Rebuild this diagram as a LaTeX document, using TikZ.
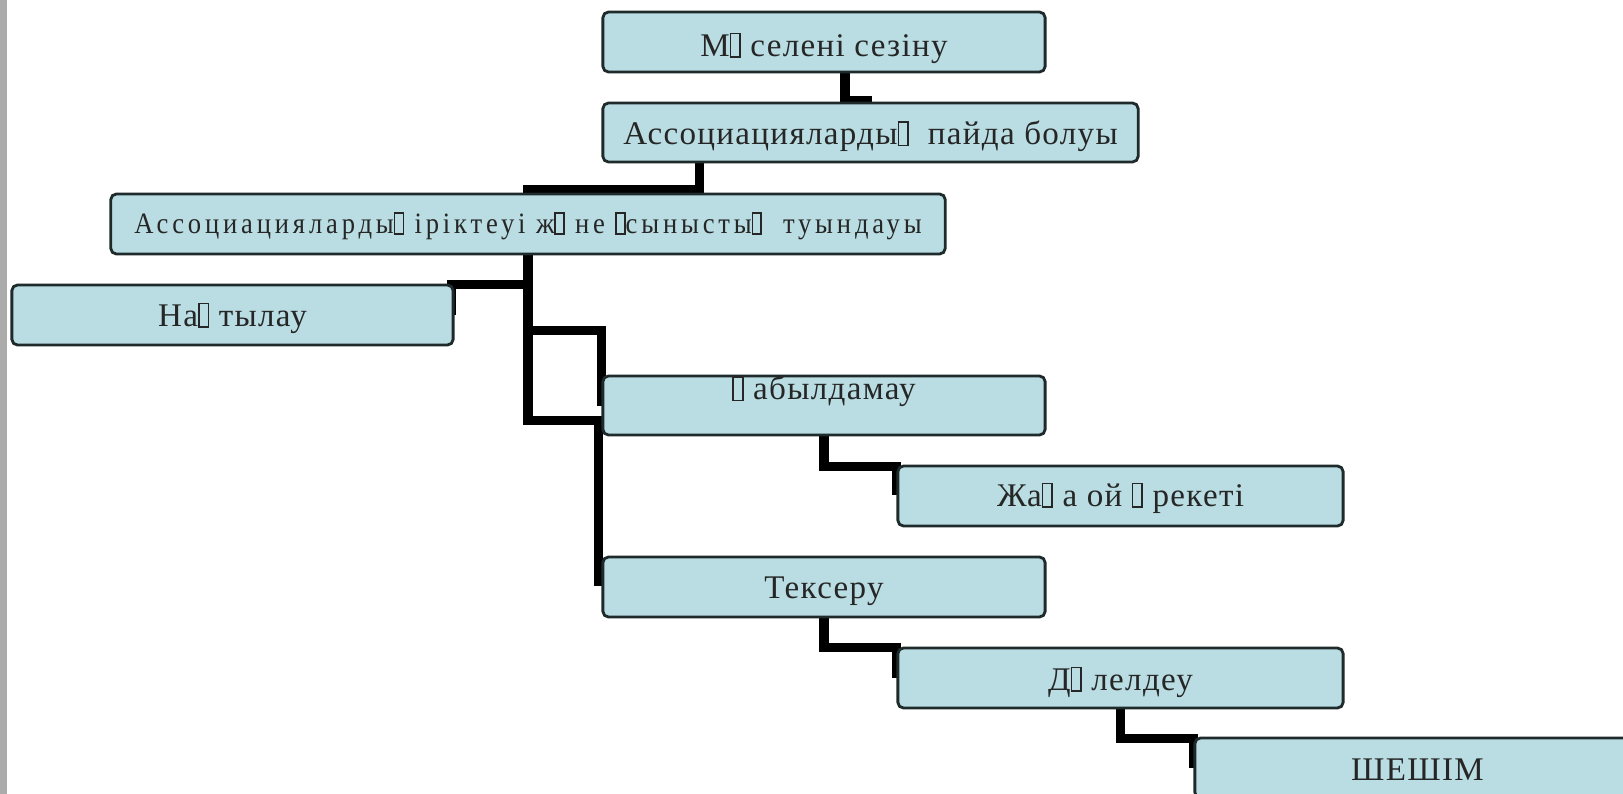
\documentclass[tikz,border=0pt]{standalone}
\usepackage{fontspec}
\setmainfont{Liberation Serif}
\newfontfamily\boxfont[LetterSpace=4]{Liberation Serif}
\newfontfamily\narrowfont[FakeStretch=0.9,LetterSpace=13]{Liberation Serif}
\usetikzlibrary{calc,backgrounds}
\definecolor{boxfill}{HTML}{B9DDE2}
\definecolor{boxline}{HTML}{1F2A2A}
\definecolor{sidebar}{HTML}{ABABAB}
\newcommand\mg{{\setlength\fboxsep{0pt}\setlength\fboxrule{0.45pt}\fbox{\rule{0pt}{0.66em}\hspace{0.24em}}}}
\newcommand\T[2]{\raisebox{#1}[0.75em][0.25em]{#2}}
\tikzset{
  bx/.style={draw=boxline, line width=0.8pt, fill=boxfill, rounded corners=1.6pt,
    inner sep=0pt, text=black!85, font=\boxfont\fontsize{9.4pt}{11pt}\selectfont},
  conn/.style={line width=2.6pt, draw=black, line join=miter, line cap=rect}
}
\begin{document}
\begin{tikzpicture}[x=0.01cm, y=-0.01cm]
\useasboundingbox (0,0) rectangle (1623,794);
\node[bx, minimum width=4.42cm, minimum height=0.60cm] (b1) at (824,42) {\T{-1.7pt}{М\mg\ селені сезіну}};
\node[bx, minimum width=5.35cm, minimum height=0.59cm] (b2) at (870.5,132.5) {\T{-1.1pt}{Ассоциацияларды\mg\ \ пайда болуы}};
\node[bx, minimum width=8.34cm, minimum height=0.60cm, font=\narrowfont\fontsize{8.4pt}{10pt}\selectfont] (b3) at (528,224) {\T{-0.5pt}{Ассоциацияларды\mg\ іріктеуі ж\mg\ не \mg сынысты\mg\ \ туындауы}};
\node[bx, minimum width=4.41cm, minimum height=0.60cm] (b4) at (232.5,315) {\T{-0.8pt}{На\mg\ тылау}};
\node[bx, minimum width=4.42cm, minimum height=0.59cm] (b5) at (824,405.5) {\T{4.0pt}{\mg\ абылдамау}};
\node[bx, minimum width=4.45cm, minimum height=0.60cm] (b6) at (1120.5,496) {\T{-0.5pt}{Жа\mg\ а ой \mg\ рекеті}};
\node[bx, minimum width=4.42cm, minimum height=0.60cm] (b7) at (824,587) {\T{-0.9pt}{Тексеру}};
\node[bx, minimum width=4.45cm, minimum height=0.60cm] (b8) at (1120.5,678) {\T{-1.1pt}{Д\mg\ лелдеу}};
\node[bx, minimum width=4.45cm, minimum height=0.60cm] (b9) at (1417.5,768) {\T{-1.3pt}{ШЕШІМ}};
\begin{scope}[on background layer]
\fill[white] (0,0) rectangle (1623,794);
\fill[sidebar] (0,0) rectangle (7,794);
\draw[conn] ($(b1.south)+(21,0)$) -- ++(0,27) -- ++(22,0);
\draw[conn] ($(b2.south)+(-171,0)$) |- ($(b3.north)+(0,-3)$);
\draw[conn] (b3.south) -- ++(0,29) -| ($(b4.north east)+(-3,27)$);
\draw[conn] ($(b3.south)+(0,75)$) -| ($(b5.north west)+(0,27)$);
\draw[conn] (b3.south) -- ++(0,165) -| ($(b7.north west)+(-3,26)$);
\draw[conn] (b5.south) -- ++(0,30) -| ($(b6.north west)+(0,26)$);
\draw[conn] (b7.south) -- ++(0,29) -| ($(b8.north west)+(0,27)$);
\draw[conn] (b8.south) -- ++(0,29) -| ($(b9.north west)+(0,27)$);
\end{scope}
\end{tikzpicture}
\end{document}
